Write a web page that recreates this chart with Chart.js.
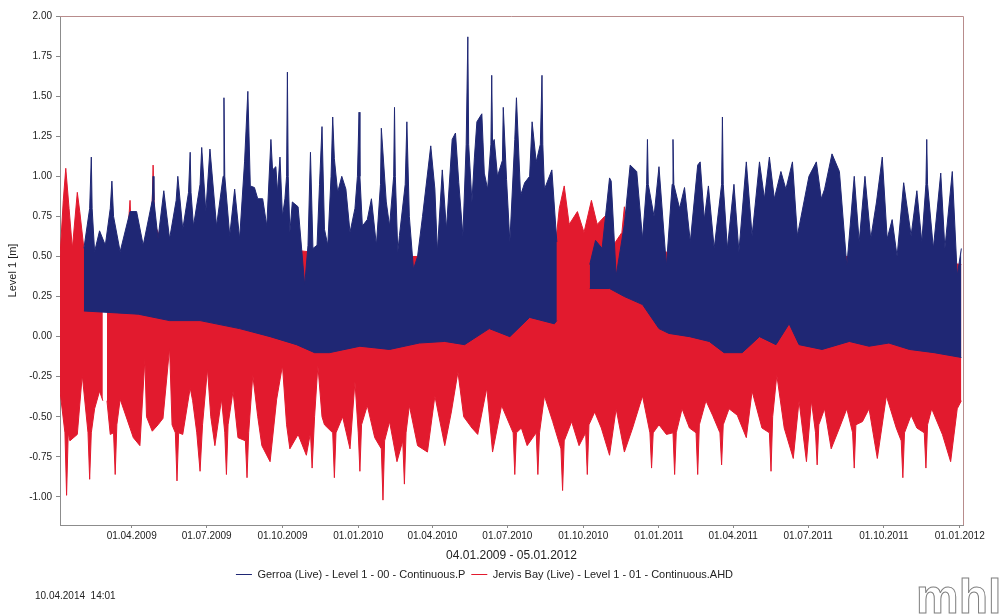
<!DOCTYPE html>
<html lang="en">
<head>
  <meta charset="UTF-8">
  <title>Level 1 - Gerroa / Jervis Bay</title>
  <script src="https://cdn.jsdelivr.net/npm/chart.js"></script>
  <style>
    html, body {
      margin: 0;
      padding: 0;
      background: #ffffff;
    }
    #wrap {
      position: relative;
      width: 1005px;
      height: 616px;
    }
  </style>
</head>
<body>
  <div id="wrap">
    <canvas id="chart" width="1005" height="616"></canvas>
  </div>

  <script>
    // x values are days since 04.01.2009 (range ends 05.01.2012 = day 1096)
    const xTickDays = [87, 178, 270, 362, 452, 543, 635, 727, 817, 908, 1000, 1092];
    const xTickLabels = ['01.04.2009', '01.07.2009', '01.10.2009', '01.01.2010', '01.04.2010', '01.07.2010',
                         '01.10.2010', '01.01.2011', '01.04.2011', '01.07.2011', '01.10.2011', '01.01.2012'];
    const yTickValues = [-1.00, -0.75, -0.50, -0.25, 0.00, 0.25, 0.50, 0.75, 1.00, 1.25, 1.50, 1.75, 2.00];

    // Gerroa (Live) - upper envelope of the record
    const gerroaHighDays = [
      29, 36, 38, 39, 42, 48, 55, 61, 63, 65,
      73, 85, 93, 101, 112, 113, 114, 119, 126, 133,
      141, 143, 149, 156, 158, 159, 162, 170, 172, 177,
      182, 190, 198, 199, 200, 206, 212, 218, 224, 228,
      231, 236, 240, 246, 251, 256, 258, 262, 264, 267,
      270, 273, 275, 276, 277, 279, 282, 289, 297, 301,
      304, 307, 312, 315, 318, 321, 325, 329, 331, 333,
      337, 342, 347, 352, 358, 361, 363, 364, 367, 373,
      378, 384, 389, 390, 396, 400, 405, 406, 407, 410,
      412, 419, 421, 424, 429, 434, 440, 450, 455, 458,
      464, 469, 476, 480, 484, 489, 493, 495, 496, 500,
      503, 506, 512, 515, 519, 523, 524, 525, 527, 531,
      537, 538, 542, 546, 552, 554, 559, 564, 570, 573,
      578, 583, 585, 586, 588, 597, 603, 620, 643, 650,
      658, 667, 669, 675, 685, 692, 700, 707, 712, 713,
      714, 721, 727, 736, 743, 744, 745, 752, 758, 765,
      774, 777, 782, 787, 794, 803, 804, 805, 810, 818,
      824, 833, 840, 849, 855, 861, 867, 875, 881, 889,
      895, 909, 918, 924, 928, 937, 946, 955, 964, 970,
      977, 984, 991, 998, 1004, 1010, 1016, 1024, 1033, 1040,
      1046, 1051, 1052, 1053, 1060, 1069, 1074, 1083, 1089, 1094];
    const gerroaHigh = [
      0.55, 0.80, 1.12, 0.80, 0.53, 0.66, 0.57, 0.80, 0.97, 0.75,
      0.53, 0.78, 0.78, 0.57, 0.85, 1.00, 0.85, 0.61, 0.91, 0.61,
      0.85, 1.00, 0.67, 0.90, 1.15, 0.90, 0.69, 0.95, 1.18, 0.78,
      1.17, 0.69, 1.00, 1.49, 1.00, 0.63, 0.92, 0.61, 1.09, 1.53,
      0.94, 0.93, 0.86, 0.86, 0.69, 1.23, 1.04, 1.06, 0.90, 1.12,
      0.75, 0.86, 1.00, 1.65, 1.00, 0.65, 0.84, 0.81, 0.32, 0.57,
      1.15, 0.55, 0.57, 0.95, 1.31, 0.67, 0.57, 1.00, 1.37, 1.11,
      0.90, 1.00, 0.92, 0.65, 0.80, 1.00, 1.40, 1.00, 0.69, 0.73,
      0.86, 0.57, 0.95, 1.30, 0.84, 0.69, 1.00, 1.43, 1.00, 0.53,
      0.63, 0.95, 1.34, 0.75, 0.42, 0.50, 0.75, 1.19, 0.92, 0.53,
      1.04, 0.67, 1.23, 1.27, 0.96, 0.63, 1.20, 1.87, 1.20, 0.84,
      1.12, 1.34, 1.39, 1.02, 0.92, 1.20, 1.63, 1.20, 1.23, 1.00,
      1.10, 1.43, 0.98, 0.59, 1.23, 1.49, 0.88, 0.96, 1.00, 1.34,
      1.09, 1.20, 1.63, 1.20, 0.92, 1.04, 0.59, null, 0.45, 0.60,
      0.55, 0.99, 0.97, 0.38, 0.70, 1.07, 1.03, 0.61, 0.95, 1.23,
      0.95, 0.75, 1.06, 0.44, 0.95, 1.23, 0.95, 0.80, 0.93, 0.59,
      1.07, 1.09, 0.73, 0.94, 0.55, 0.95, 1.37, 0.95, 0.55, 0.95,
      0.53, 1.09, 0.63, 1.09, 0.86, 1.12, 0.86, 1.03, 0.92, 1.09,
      0.63, 1.00, 1.09, 0.86, 0.92, 1.14, 1.03, 0.44, 1.00, 0.59,
      1.00, 0.61, 0.84, 1.12, 0.61, 0.73, 0.50, 0.96, 0.63, 0.91,
      0.59, 0.95, 1.23, 0.95, 0.55, 1.02, 0.55, 1.03, 0.38, 0.55];

    // Gerroa (Live) - lower envelope of the record
    const gerroaLowDays = [29, 95, 133, 170, 218, 255, 287, 309, 327, 364, 400, 436, 467, 491, 521, 546, 570, 600, 603, 620,
      643, 667, 685, 707, 727, 739, 764, 788, 806, 828, 849, 869, 885, 897, 925, 958, 982, 1006, 1031, 1061, 1094];
    const gerroaLow = [0.16, 0.14, 0.10, 0.10, 0.05, 0.00, -0.05, -0.10, -0.10, -0.06, -0.08, -0.04, -0.03, -0.05, 0.05, 0.00, 0.12, 0.08, 0.10, null,
      0.30, 0.30, 0.25, 0.20, 0.05, 0.02, 0.00, -0.03, -0.10, -0.10, 0.00, -0.05, 0.08, -0.05, -0.08, -0.03, -0.06, -0.04, -0.08, -0.10, -0.13];

    // Jervis Bay (Live) - upper envelope of the record
    const jervisHighDays = [0, 4, 7, 11, 15, 21, 24, 29, 42, 52, 55, 57, 80, 83, 85, 87, 95, 110, 112, 113,
      115, 127, 158, 206, 267, 352, 436, 497, 533, 570, 601, 606, 612, 618, 628, 636, 645, 652, 661, 669,
      682, 685, 688, 703, 776, 849, 934, 1018, 1094];
    const jervisHigh = [0.50, 0.85, 1.05, 0.80, 0.55, 0.90, 0.78, 0.55, 0.50, 0.50, null, 0.45, 0.55, 0.70, 0.85, 0.60, 0.55, 0.60, 0.85, 1.07,
      0.70, 0.55, 0.55, 0.55, 0.55, 0.50, 0.50, 0.55, 0.50, 0.60, 0.55, 0.80, 0.94, 0.70, 0.78, 0.65, 0.85, 0.70, 0.75, 0.55,
      0.65, 0.81, 0.60, 0.55, 0.50, 0.45, 0.50, 0.50, 0.45];

    // Jervis Bay (Live) - lower envelope of the record
    const jervisLowDays = [
      0, 6, 8, 10, 12, 21, 27, 34, 36, 38,
      42, 48, 52, 55, 57, 61, 65, 67, 69, 73,
      89, 97, 103, 105, 112, 119, 125, 133, 136, 140,
      142, 144, 149, 158, 161, 166, 170, 173, 179, 183,
      188, 196, 200, 202, 204, 210, 216, 225, 227, 229,
      234, 240, 245, 255, 263, 270, 275, 279, 289, 299,
      304, 306, 309, 313, 318, 321, 331, 333, 335, 343,
      352, 358, 362, 364, 366, 373, 382, 390, 392, 394,
      400, 409, 416, 418, 420, 424, 434, 446, 455, 467,
      475, 483, 490, 500, 507, 518, 525, 536, 550, 552,
      554, 560, 567, 578, 580, 582, 588, 598, 608, 610,
      612, 621, 630, 638, 640, 642, 649, 657, 667, 675,
      685, 695, 707, 716, 718, 720, 727, 736, 744, 746,
      748, 755, 764, 772, 774, 776, 784, 792, 801, 803,
      805, 812, 822, 833, 840, 852, 861, 863, 865, 870,
      879, 890, 897, 906, 912, 917, 919, 921, 928, 936,
      946, 955, 962, 964, 966, 974, 982, 992, 1003, 1015,
      1021, 1023, 1025, 1033, 1040, 1049, 1051, 1053, 1058, 1071,
      1081, 1089, 1094];
    const jervisLow = [
      -0.34, -0.60, -0.99, -0.60, -0.65, -0.61, -0.24, -0.60, -0.89, -0.60,
      -0.45, -0.34, -0.40, null, -0.40, -0.61, -0.60, -0.86, -0.55, -0.39,
      -0.63, -0.68, -0.14, -0.50, -0.59, -0.55, -0.51, -0.07, -0.55, -0.60,
      -0.90, -0.60, -0.61, -0.32, -0.40, -0.60, -0.84, -0.55, -0.20, -0.50,
      -0.68, -0.39, -0.60, -0.86, -0.55, -0.34, -0.63, -0.65, -0.88, -0.60,
      -0.24, -0.50, -0.68, -0.78, -0.39, -0.18, -0.55, -0.70, -0.61, -0.74,
      -0.60, -0.82, -0.50, -0.18, -0.50, -0.55, -0.60, -0.88, -0.60, -0.50,
      -0.70, -0.28, -0.60, -0.84, -0.55, -0.43, -0.63, -0.70, -1.02, -0.65,
      -0.53, -0.78, -0.65, -0.92, -0.60, -0.43, -0.68, -0.72, -0.37, -0.68,
      -0.47, -0.22, -0.50, -0.57, -0.61, -0.32, -0.72, -0.43, -0.60, -0.86,
      -0.60, -0.57, -0.68, -0.60, -0.86, -0.60, -0.37, -0.53, -0.70, -0.96,
      -0.65, -0.53, -0.68, -0.60, -0.86, -0.55, -0.47, -0.57, -0.74, -0.45,
      -0.72, -0.57, -0.37, -0.60, -0.82, -0.60, -0.55, -0.61, -0.60, -0.86,
      -0.60, -0.45, -0.57, -0.60, -0.86, -0.55, -0.40, -0.49, -0.60, -0.80,
      -0.55, -0.45, -0.49, -0.63, -0.34, -0.57, -0.60, -0.84, -0.50, -0.24,
      -0.57, -0.76, -0.40, -0.78, -0.40, -0.60, -0.80, -0.55, -0.45, -0.70,
      -0.57, -0.45, -0.60, -0.82, -0.55, -0.53, -0.45, -0.76, -0.37, -0.57,
      -0.65, -0.88, -0.60, -0.49, -0.57, -0.60, -0.82, -0.55, -0.45, -0.61,
      -0.78, -0.45, -0.40];

    const GERROA_COLOR = '#1f2774';
    const JERVIS_COLOR = '#e21a2e';
    const FONT = '"Liberation Sans", Arial, sans-serif';

    function toPoints(days, levels) {
      return days.map((d, i) => ({ x: d, y: levels[i] }));
    }

    function envelope(label, days, levels, color, fill) {
      return {
        label: label,
        data: toPoints(days, levels),
        borderColor: color,
        backgroundColor: color,
        borderWidth: 1,
        pointRadius: 0,
        pointHoverRadius: 0,
        pointStyle: 'line',
        tension: 0,
        spanGaps: false,
        fill: fill
      };
    }

    // top / right frame + footer texts
    const framePlugin = {
      id: 'frame',
      afterDraw(chart) {
        const ctx = chart.ctx;
        const a = chart.chartArea;
        ctx.save();
        ctx.strokeStyle = '#b88c8c';
        ctx.lineWidth = 1;
        ctx.beginPath();
        ctx.moveTo(a.left, a.top + 0.5);
        ctx.lineTo(a.right + 0.5, a.top + 0.5);
        ctx.lineTo(a.right + 0.5, a.bottom);
        ctx.stroke();

        ctx.fillStyle = '#222';
        ctx.font = '10px ' + FONT;
        ctx.textBaseline = 'middle';
        ctx.fillText('10.04.2014  14:01', 35, 596);

        ctx.font = 'bold 48px ' + FONT;
        ctx.strokeStyle = '#808080';
        ctx.lineWidth = 1;
        ctx.textBaseline = 'alphabetic';
        ctx.strokeText('mhl', 916, 613);
        ctx.restore();
      }
    };

    const ctx = document.getElementById('chart').getContext('2d');
    new Chart(ctx, {
      type: 'line',
      data: {
        datasets: [
          envelope('Gerroa (Live) - Level 1 - 00 - Continuous.P', gerroaHighDays, gerroaHigh, GERROA_COLOR, '+1'),
          envelope('', gerroaLowDays, gerroaLow, GERROA_COLOR, false),
          envelope('Jervis Bay (Live) - Level 1 - 01 - Continuous.AHD', jervisHighDays, jervisHigh, JERVIS_COLOR, '+1'),
          envelope('', jervisLowDays, jervisLow, JERVIS_COLOR, false)
        ]
      },
      options: {
        responsive: false,
        animation: false,
        events: [],
        layout: {
          padding: { left: 6, right: 42, top: 16, bottom: 26 }
        },
        scales: {
          x: {
            type: 'linear',
            min: 0,
            max: 1096,
            grid: { display: true, drawOnChartArea: false, tickLength: 3, color: '#888' },
            border: { color: '#8c8c8c' },
            afterBuildTicks(scale) {
              scale.ticks = xTickDays.map(v => ({ value: v }));
            },
            afterFit(scale) {
              scale.height = 38;
            },
            ticks: {
              autoSkip: false,
              maxRotation: 0,
              padding: 2,
              color: '#222',
              font: { family: FONT, size: 10 },
              callback(value) {
                const i = xTickDays.indexOf(value);
                return i >= 0 ? xTickLabels[i] : '';
              }
            },
            title: {
              display: true,
              text: '04.01.2009 - 05.01.2012',
              color: '#222',
              font: { family: FONT, size: 12 },
              padding: { top: 2, bottom: 0 }
            }
          },
          y: {
            min: -1.175,
            max: 2.0,
            grid: { display: true, drawOnChartArea: false, tickLength: 4, color: '#888' },
            border: { color: '#8c8c8c' },
            afterBuildTicks(scale) {
              scale.ticks = yTickValues.map(v => ({ value: v }));
            },
            afterFit(scale) {
              scale.width = 54;
            },
            ticks: {
              padding: 4,
              color: '#222',
              font: { family: FONT, size: 10 },
              callback(value) {
                return Number(value).toFixed(2);
              }
            },
            title: {
              display: true,
              text: 'Level 1 [m]',
              color: '#222',
              font: { family: FONT, size: 11 },
              padding: { top: 0, bottom: 0 }
            }
          }
        },
        plugins: {
          legend: {
            position: 'bottom',
            labels: {
              usePointStyle: true,
              pointStyleWidth: 16,
              boxHeight: 10,
              padding: 6,
              color: '#222',
              font: { family: FONT, size: 11 },
              filter(item) {
                return item.text !== '';
              }
            }
          },
          tooltip: { enabled: false }
        }
      },
      plugins: [framePlugin]
    });
  </script>
</body>
</html>
